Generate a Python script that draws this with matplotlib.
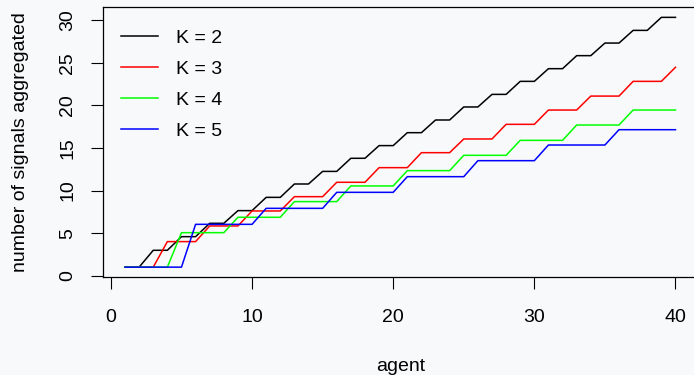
import matplotlib
matplotlib.use("Agg")
import matplotlib.pyplot as plt

# data
agent = list(range(1, 41))
k2 = [1, 1, 2.98, 2.98, 4.58, 4.58, 6.15, 6.15, 7.64, 7.64,
      9.2, 9.2, 10.77, 10.77, 12.25, 12.25, 13.79, 13.79, 15.28, 15.28,
      16.8, 16.8, 18.29, 18.29, 19.82, 19.82, 21.3, 21.3, 22.83, 22.83,
      24.32, 24.32, 25.85, 25.85, 27.33, 27.33, 28.82, 28.82, 30.35, 30.35]
k3 = [1, 1, 1, 4.0, 4.0, 4.0, 5.84, 5.84, 5.84, 7.6,
      7.6, 7.6, 9.28, 9.28, 9.28, 10.97, 10.97, 10.97, 12.69, 12.69,
      12.69, 14.45, 14.45, 14.45, 16.06, 16.06, 16.06, 17.78, 17.78, 17.78,
      19.46, 19.46, 19.46, 21.1, 21.1, 21.1, 22.83, 22.83, 22.83, 24.48]
k4 = [1, 1, 1, 1, 5.05, 5.05, 5.05, 5.05, 6.86, 6.86,
      6.86, 6.86, 8.7, 8.7, 8.7, 8.7, 10.54, 10.54, 10.54, 10.54,
      12.34, 12.34, 12.34, 12.34, 14.14, 14.14, 14.14, 14.14, 15.9, 15.9,
      15.9, 15.9, 17.7, 17.7, 17.7, 17.7, 19.46, 19.46, 19.46, 19.46]
k5 = [1, 1, 1, 1, 1, 6.03, 6.03, 6.03, 6.03, 6.03,
      7.91, 7.91, 7.91, 7.91, 7.91, 9.79, 9.79, 9.79, 9.79, 9.79,
      11.63, 11.63, 11.63, 11.63, 11.63, 13.51, 13.51, 13.51, 13.51, 13.51,
      15.35, 15.35, 15.35, 15.35, 15.35, 17.15, 17.15, 17.15, 17.15, 17.15]

series = [k2, k3, k4, k5]
labels = ["K = 2", "K = 3", "K = 4", "K = 5"]
colors = ["black", "#ff0000", "#00ff00", "#0000ff"]
xticks = [0, 10, 20, 30, 40]
yticks = [0, 5, 10, 15, 20, 25, 30]

bg = "#f8f9fa"
plt.rcParams["font.family"] = ["Liberation Sans", "DejaVu Sans"]
plt.rcParams["font.size"] = 14

fig = plt.figure(figsize=(6.94, 3.75), dpi=100, facecolor=bg)
W, H = 694, 375
left, right, top, bottom = 103, 697.5, 7.4, 277.1
ax = fig.add_axes([left / W, 1 - bottom / H, (right - left) / W, (bottom - top) / H])
ax.set_facecolor(bg)

for y, lab, c in zip(series, labels, colors):
    ax.plot(agent, y, color=c, lw=1.1, label=lab)

ax.set_xlim(-0.56, 41.56)
ax.set_ylim(-0.17, 31.52)
ax.set_xticks(xticks)
ax.set_yticks(yticks)
for s in ax.spines.values():
    s.set_linewidth(0.9)
ax.spines["right"].set_visible(False)  # box runs off the right edge in the original
ax.tick_params(direction="out", length=8.4, width=0.8, labelsize=14)
ax.tick_params(axis="x", pad=14.5)
ax.tick_params(axis="y", pad=11)
for t in ax.get_yticklabels():
    t.set_rotation(90)
    t.set_va("center")

ax.set_xlabel("agent", fontsize=14)
ax.xaxis.set_label_coords(0.5, -0.30)
ax.set_ylabel("number of signals aggregated", fontsize=14)
ax.yaxis.set_label_coords((29 - left) / (right - left), 0.5)

ax.legend(loc="upper left", bbox_to_anchor=(120.7 / W, 1 - 29.5 / H),
          bbox_transform=fig.transFigure, frameon=False, borderpad=0,
          borderaxespad=0, handlelength=1.93, handletextpad=0.9,
          labelspacing=0.68, fontsize=14)

fig.savefig("out.png", dpi=100, facecolor=bg)
